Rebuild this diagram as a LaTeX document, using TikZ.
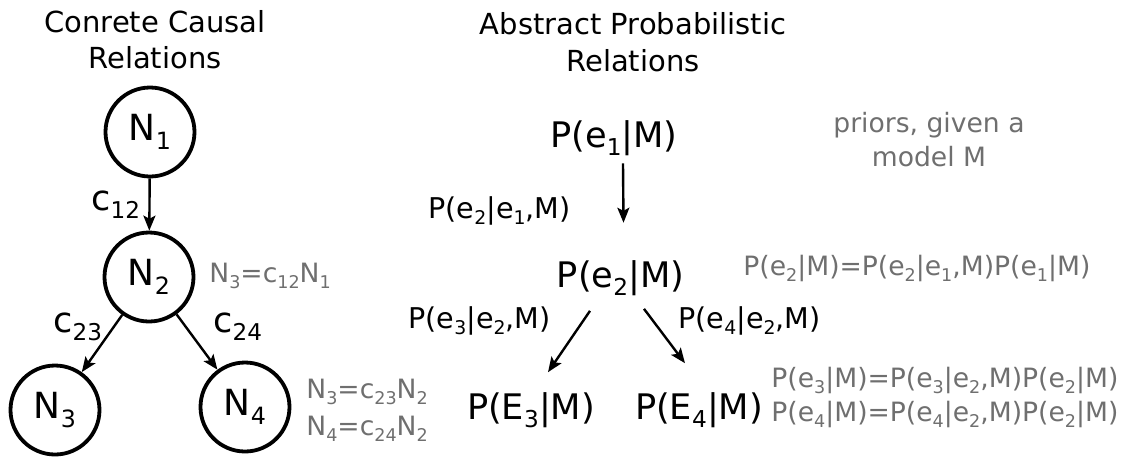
\documentclass[tikz,border=0pt]{standalone}
\usepackage{fontspec}
\setmainfont{DejaVu Sans}
\usepackage{tikz}
\usetikzlibrary{arrows.meta,positioning}
\definecolor{tgray}{HTML}{6F6F6F}
\makeatletter
\newcommand{\lo}[1]{\raisebox{-0.24em}{\fontsize{\fpeval{0.66*\f@size}}{0}\selectfont #1}}
\makeatother
\tikzset{
  var/.style  = {circle, draw, line width=1.9pt, minimum size=44.5pt, inner sep=0pt,
                 font=\fontsize{18}{21}\selectfont},
  prob/.style = {inner sep=0pt, anchor=base, font=\fontsize{17.6}{21}\selectfont},
  ttl/.style  = {inner sep=0pt, align=center, font=\fontsize{14.5}{18.3}\selectfont},
  lbl/.style  = {inner sep=0pt, anchor=base west, font=\fontsize{14.3}{17}\selectfont},
  clbl/.style = {inner sep=0pt, anchor=base west, font=\fontsize{17.5}{19}\selectfont},
  note/.style = {inner sep=0pt, text=tgray, font=\fontsize{13.3}{16.7}\selectfont},
  arr/.style  = {-{Stealth[length=7.5pt,width=6pt,inset=1.6pt]}, line width=1.2pt},
}
\begin{document}
\begin{tikzpicture}[x=0.5pt,y=-0.5pt]
\useasboundingbox (0,0) rectangle (1131,457);
% concrete side
\node[ttl] (ttlc) at (155,39.6) {Conrete Causal\\Relations};
\node[var] (n1) at (150,132) {N\lo{1}};
\node[var] (n2) at (149,277) {N\lo{2}};
\node[var] (n3) at (55,410) {N\lo{3}};
\node[var] (n4) at (245,407) {N\lo{4}};
\draw[arr] (n1) -- (n2);
\draw[arr] (n2) -- (n3);
\draw[arr] (n2) -- (n4);
\node[clbl] (c12) at (91,210) {c\lo{12}};
\node[clbl] (c23) at (53,332) {c\lo{23}};
\node[clbl] (c24) at (213,332) {c\lo{24}};
\node[note, anchor=base west] (eqn2) at (209,282) {N\lo{3}=c\lo{12}N\lo{1}};
\node[note, anchor=base west] (eqn3) at (306,398) {N\lo{3}=c\lo{23}N\lo{2}};
\node[note, anchor=base west] (eqn4) at (306,435) {N\lo{4}=c\lo{24}N\lo{2}};
% probabilistic side
\node[ttl] (ttlp) at (633,42.3) {Abstract Probabilistic\\Relations};
\node[prob] (pe1) at (614,147) {P(e\lo{1}|M)};
\node[prob] (pe2) at (620.5,287) {P(e\lo{2}|M)};
\node[prob] (pE3) at (531,419.5) {P(E\lo{3}|M)};
\node[prob] (pE4) at (699,419.5) {P(E\lo{4}|M)};
\draw[arr] ([xshift=4.5pt,yshift=-3.8pt]pe1.south) -- ([xshift=1.5pt,yshift=18.5pt]pe2.north);
\draw[arr] ([xshift=-15.25pt,yshift=-7.5pt]pe2.south) -- ([xshift=8.5pt,yshift=10pt]pE3.north);
\draw[arr] ([xshift=11.75pt,yshift=-6.5pt]pe2.south) -- ([xshift=-7pt,yshift=14.5pt]pE4.north);
\node[lbl] (l12) at (428,218) {P(e\lo{2}|e\lo{1},M)};
\node[lbl] (l23) at (408,328) {P(e\lo{3}|e\lo{2},M)};
\node[lbl] (l24) at (678,328) {P(e\lo{4}|e\lo{2},M)};
\node[note, align=center] (prior) at (929,139.7) {priors, given a\\model M};
\node[note, anchor=base west] (eqp2) at (743,275) {P(e\lo{2}|M)=P(e\lo{2}|e\lo{1},M)P(e\lo{1}|M)};
\node[note, anchor=base west] (eqp3) at (771,387.5) {P(e\lo{3}|M)=P(e\lo{3}|e\lo{2},M)P(e\lo{2}|M)};
\node[note, anchor=base west] (eqp4) at (771,421.5) {P(e\lo{4}|M)=P(e\lo{4}|e\lo{2},M)P(e\lo{2}|M)};
\end{tikzpicture}
\end{document}
